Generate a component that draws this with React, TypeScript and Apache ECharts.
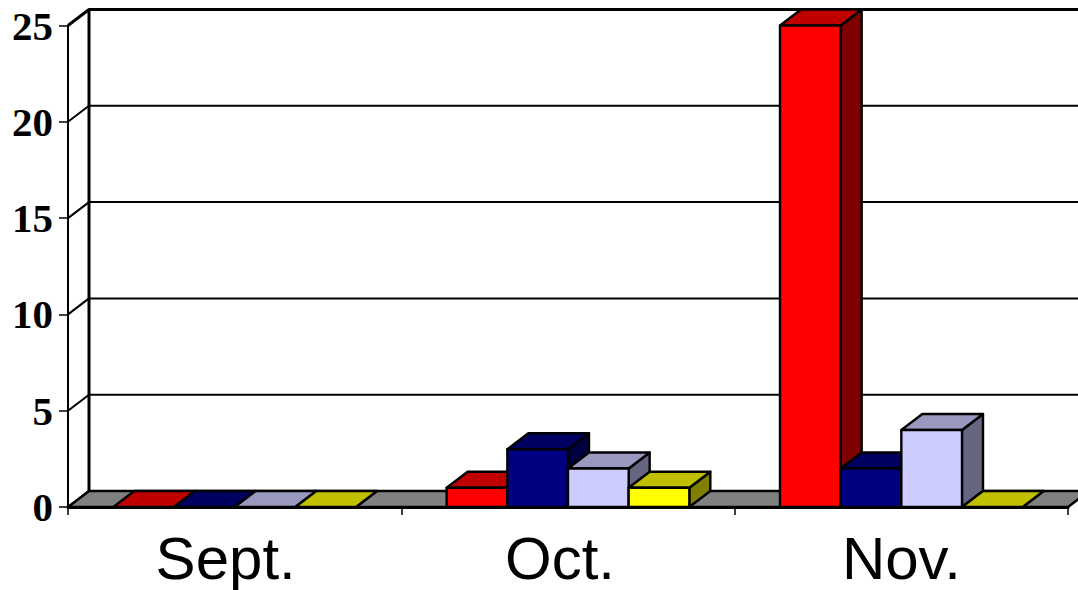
import React, { useEffect, useRef } from "react";
import * as echarts from "echarts";

const categories = ["Sept.", "Oct.", "Nov."];
const yTicks = [0, 5, 10, 15, 20, 25];
const seriesNames = ["Series 1", "Series 2", "Series 3", "Series 4"];
const redValues = [0, 1, 25];
const navyValues = [0, 3, 2];
const lilacValues = [0, 2, 4];
const yellowValues = [0, 1, 0];
const allValues = [redValues, navyValues, lilacValues, yellowValues];
const frontColors = ["#FF0000", "#000080", "#CCCCFF", "#FFFF00"];
const topColors = ["#C00000", "#000060", "#9999C0", "#C0C000"];
const sideColors = ["#800000", "#000040", "#666680", "#808000"];

const DX = 21;
const DY = -16;
const BAR_SHARE = 0.182;
const EDGE = { stroke: "#000", lineWidth: 2.4, lineJoin: "round" as const };

const labelShift: Record<string, number> = { "Sept.": 18, "Oct.": 16, "Nov.": 0 };
const labelKey: Record<string, string> = { "Sept.": "a", "Oct.": "b", "Nov.": "c" };
const labelStyle = { fontFamily: "Liberation Sans", fontSize: 60, color: "#000" };

function renderFloor(params: any) {
  const c = params.coordSys;
  const by = c.y + c.height;
  return {
    type: "polygon",
    shape: {
      points: [
        [c.x, by],
        [c.x + DX, by + DY],
        [c.x + c.width + DX, by + DY],
        [c.x + c.width, by],
      ],
    },
    style: { fill: "#808080", ...EDGE },
  };
}

function renderWallLine(params: any, api: any) {
  const c = params.coordSys;
  const p = api.coord([0, api.value(1)]);
  const isTop = api.value(1) === yTicks[yTicks.length - 1];
  return {
    type: "polyline",
    shape: {
      points: [
        [c.x, p[1]],
        [c.x + DX, p[1] + DY],
        [c.x + c.width + DX, p[1] + DY],
      ],
    },
    style: { fill: "none", stroke: "#000", lineWidth: isTop ? 3 : 2, lineJoin: "round" },
  };
}

function renderBackAxis(params: any) {
  const c = params.coordSys;
  return {
    type: "line",
    shape: { x1: c.x + DX, y1: c.y + DY, x2: c.x + DX, y2: c.y + c.height + DY },
    style: { stroke: "#000", lineWidth: 3 },
  };
}

function makeBarRenderer(index: number) {
  return (_params: any, api: any) => {
    const cat = api.value(0);
    const top = api.coord([cat, api.value(1)]);
    const base = api.coord([cat, 0]);
    const w = api.size([1, 0])[0] * BAR_SHARE;
    const x0 = top[0] - 2 * w + index * w;
    const x1 = x0 + w;
    const yT = top[1];
    const yB = base[1];
    const children: any[] = [
      {
        type: "polygon",
        shape: { points: [[x1, yT], [x1 + DX, yT + DY], [x1 + DX, yB + DY], [x1, yB]] },
        style: { fill: sideColors[index], ...EDGE },
      },
      {
        type: "polygon",
        shape: { points: [[x0, yT], [x0 + DX, yT + DY], [x1 + DX, yT + DY], [x1, yT]] },
        style: { fill: topColors[index], ...EDGE },
      },
    ];
    if (yB - yT > 0.5) {
      children.push({
        type: "rect",
        shape: { x: x0, y: yT, width: w, height: yB - yT },
        style: { fill: frontColors[index], ...EDGE },
      });
    }
    return { type: "group", children };
  };
}

export default function App() {
  const ref = useRef<HTMLDivElement>(null);

  useEffect(() => {
    document.body.style.margin = "0";
    const chart = echarts.init(ref.current!, undefined, { renderer: "svg" });
    const rich: Record<string, any> = {};
    categories.forEach((name) => {
      rich[labelKey[name]] = { ...labelStyle, padding: [0, labelShift[name], 0, 0] };
    });
    chart.setOption({
      animation: false,
      backgroundColor: "#fff",
      tooltip: { show: false },
      legend: { show: false },
      grid: { left: 68, right: 10, top: 25.5, bottom: 83, containLabel: false },
      xAxis: {
        type: "category",
        data: categories,
        boundaryGap: true,
        axisLine: { show: true, lineStyle: { color: "#000", width: 3 } },
        axisTick: { show: true, alignWithLabel: false, length: 8, lineStyle: { color: "#000", width: 1.5 } },
        axisLabel: {
          margin: 21,
          interval: 0,
          formatter: (v: string) => `{${labelKey[v]}|${v}}`,
          rich,
          ...labelStyle,
        },
        splitLine: { show: false },
      },
      yAxis: {
        type: "value",
        min: 0,
        max: 25,
        interval: 5,
        axisLine: { show: true, lineStyle: { color: "#000", width: 2 } },
        axisTick: { show: true, length: 9, lineStyle: { color: "#000", width: 1.5 } },
        axisLabel: {
          margin: 15,
          fontFamily: "Liberation Serif",
          fontWeight: "bold",
          fontSize: 41,
          color: "#000",
        },
        splitLine: { show: false },
      },
      series: [
        {
          type: "custom",
          name: "Floor",
          silent: true,
          z: 1,
          data: [[0, 0]],
          encode: { x: 0, y: 1 },
          renderItem: renderFloor,
        },
        {
          type: "custom",
          name: "Wall lines",
          silent: true,
          z: 2,
          data: yTicks.map((t) => [0, t]),
          encode: { x: 0, y: 1 },
          renderItem: renderWallLine,
        },
        {
          type: "custom",
          name: "Back axis",
          silent: true,
          z: 2,
          data: [[0, 0]],
          encode: { x: 0, y: 1 },
          renderItem: renderBackAxis,
        },
        ...allValues.map((values, i) => ({
          type: "custom",
          name: seriesNames[i],
          silent: true,
          z: 3 + i,
          data: values.map((v, c) => [c, v]),
          encode: { x: 0, y: 1 },
          renderItem: makeBarRenderer(i),
        })),
      ],
    });
    return () => chart.dispose();
  }, []);

  return <div ref={ref} style={{ width: 1078, height: 590, background: "#fff" }} />;
}
